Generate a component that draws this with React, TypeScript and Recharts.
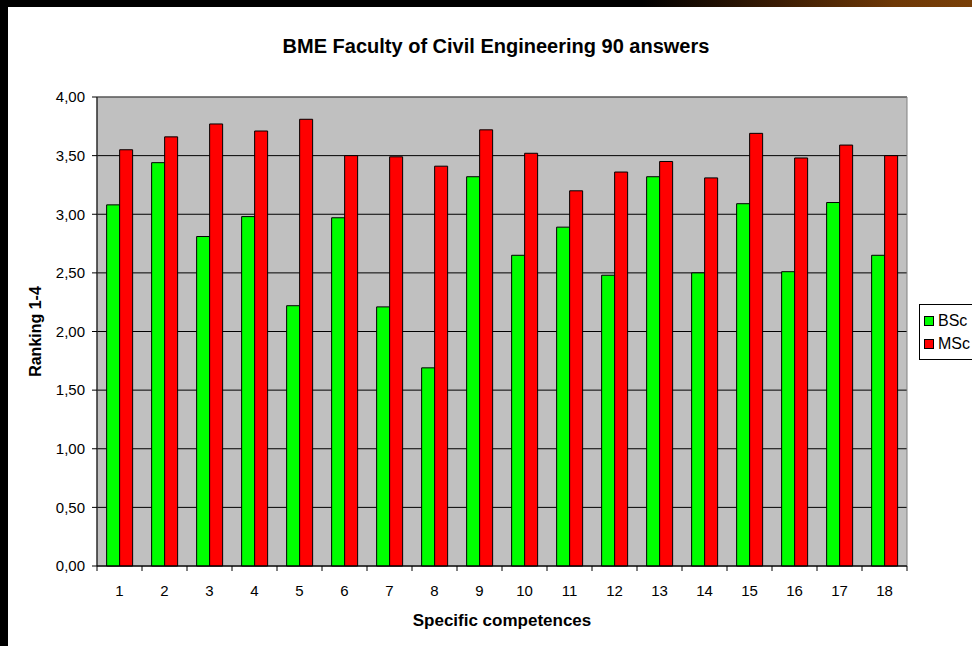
import React from 'react';
import { BarChart, Bar, XAxis, YAxis, CartesianGrid, Legend, ReferenceArea, Label } from 'recharts';

const categories = ['1', '2', '3', '4', '5', '6', '7', '8', '9', '10', '11', '12', '13', '14', '15', '16', '17', '18'];
const bscValues = [3.08, 3.44, 2.81, 2.98, 2.22, 2.97, 2.21, 1.69, 3.32, 2.65, 2.89, 2.48, 3.32, 2.5, 3.09, 2.51, 3.1, 2.65];
const mscValues = [3.55, 3.66, 3.77, 3.71, 3.81, 3.5, 3.49, 3.41, 3.72, 3.52, 3.2, 3.36, 3.45, 3.31, 3.69, 3.48, 3.59, 3.5];
const yTicks = [0, 0.5, 1, 1.5, 2, 2.5, 3, 3.5, 4];

const data = categories.map((c, i) => ({ name: c, BSc: bscValues[i], MSc: mscValues[i] }));

const W = 972;
const H = 646;
const MARGIN = { top: 97, right: 65, bottom: 0, left: 0 };
const Y_AXIS_W = 97;
const X_AXIS_H = 80;
const PLOT_W = W - MARGIN.right - Y_AXIS_W;
const HALF_BAND = PLOT_W / categories.length / 2;
const FONT = '"Liberation Sans", Arial, sans-serif';

const XTick = (props: any) => {
  const { x, y, payload, index } = props;
  return (
    <g>
      {index === 0 && <line x1={x - HALF_BAND} x2={x - HALF_BAND} y1={y} y2={y + 5} stroke="#000" />}
      <line x1={x + HALF_BAND} x2={x + HALF_BAND} y1={y} y2={y + 5} stroke="#000" />
      <text x={x} y={y + 30} textAnchor="middle" fontSize={15} fontFamily={FONT} fill="#000">
        {payload.value}
      </text>
    </g>
  );
};

const YTitle = (props: any) => {
  const vb = props.viewBox || {};
  const cy = vb.y + vb.height / 2;
  const cx = 41;
  return (
    <text
      x={cx}
      y={cy}
      transform={`rotate(-90 ${cx} ${cy})`}
      textAnchor="middle"
      fontSize={16}
      fontWeight="bold"
      fontFamily={FONT}
      fill="#000"
    >
      Ranking 1-4
    </text>
  );
};

const LegendBox = (props: any) => {
  const payload = props.payload || [];
  return (
    <div
      style={{
        border: '1px solid #000',
        background: '#fff',
        padding: '4px 6px 4px 4px',
        fontFamily: FONT,
        fontSize: 16,
        width: 70,
        boxSizing: 'border-box',
      }}
    >
      {payload.map((p: any) => (
        <div key={p.value} style={{ display: 'flex', alignItems: 'center', height: 23 }}>
          <span
            style={{
              display: 'inline-block',
              width: 8,
              height: 8,
              border: '1px solid #000',
              background: p.color,
              marginRight: 4,
            }}
          />
          <span>{p.value}</span>
        </div>
      ))}
    </div>
  );
};

export default function App() {
  return (
    <div
      style={{
        position: 'absolute',
        left: 0,
        top: 0,
        width: W,
        height: H,
        overflow: 'hidden',
        background: '#fff',
      }}
    >
      <div style={{ position: 'absolute', left: 0, top: 0, width: 8, height: H, background: '#000' }} />
      <div
        style={{
          position: 'absolute',
          left: 0,
          top: 0,
          width: W,
          height: 7,
          background: 'linear-gradient(to right, #000 0%, #000 66%, #3a1c04 80%, #6e3806 92%, #7a4008 100%)',
        }}
      />
      <div
        style={{
          position: 'absolute',
          left: 0,
          width: 992,
          top: 34,
          textAlign: 'center',
          fontFamily: FONT,
          fontWeight: 'bold',
          fontSize: 20,
          lineHeight: '24px',
          color: '#000',
        }}
      >
        BME Faculty of Civil Engineering 90 answers
      </div>
      <div style={{ position: 'absolute', left: 0, top: 0 }}>
        <BarChart width={W} height={H} data={data} margin={MARGIN} barCategoryGap="21.4%" barGap={0}>
          <CartesianGrid vertical={false} horizontal={true} stroke="#000" fill="#C0C0C0" />
          <ReferenceArea y1={0} y2={4} fill="none" stroke="#808080" strokeWidth={1} />
          <XAxis
            dataKey="name"
            height={X_AXIS_H}
            tickLine={false}
            tickSize={0}
            tickMargin={0}
            axisLine={{ stroke: '#000' }}
            tick={<XTick />}
            interval={0}
          >
            <Label
              value="Specific competences"
              position="insideBottom"
              offset={20}
              style={{ fontFamily: FONT, fontWeight: 'bold', fontSize: 17, fill: '#000' }}
            />
          </XAxis>
          <YAxis
            width={Y_AXIS_W}
            domain={[0, 4]}
            ticks={yTicks}
            interval={0}
            tickSize={5}
            tickMargin={7}
            axisLine={{ stroke: '#000' }}
            tickLine={{ stroke: '#000' }}
            tick={{ fontSize: 15, fontFamily: FONT, fill: '#000' }}
            tickFormatter={(v: number) => v.toFixed(2).replace('.', ',')}
          >
            <Label content={<YTitle />} />
          </YAxis>
          <Legend
            layout="vertical"
            align="center"
            verticalAlign="middle"
            content={<LegendBox />}
            wrapperStyle={{ left: 919, top: 304, width: 70 }}
          />
          <Bar dataKey="BSc" name="BSc" fill="#00FF00" stroke="#000" strokeWidth={1} isAnimationActive={false} />
          <Bar dataKey="MSc" name="MSc" fill="#FF0000" stroke="#000" strokeWidth={1} isAnimationActive={false} />
        </BarChart>
      </div>
    </div>
  );
}
